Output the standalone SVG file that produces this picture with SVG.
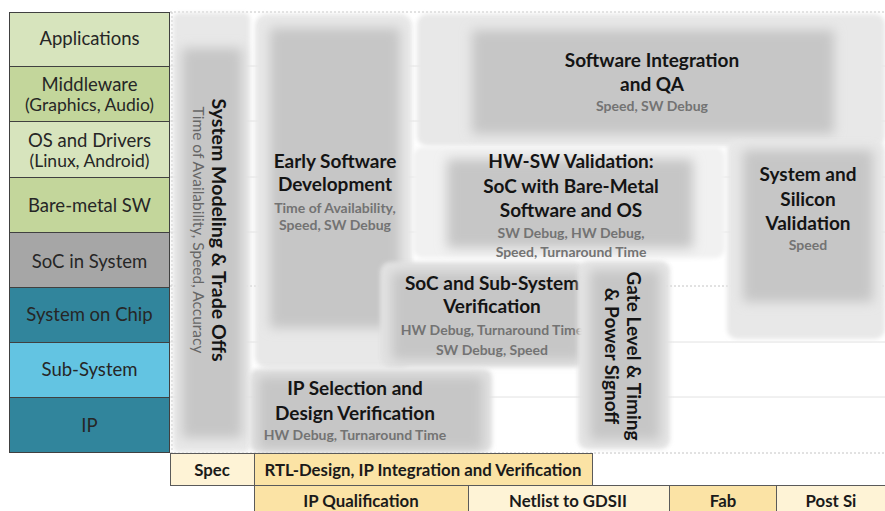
<svg xmlns="http://www.w3.org/2000/svg" width="885" height="511" viewBox="0 0 885 511">
<style>
.t{font-family:Lato,"Liberation Sans",sans-serif;font-weight:700;font-size:19px;fill:#141414;text-anchor:middle}
.s{font-family:Lato,"Liberation Sans",sans-serif;font-weight:700;font-size:14px;fill:#737373;text-anchor:middle}
.sr{font-family:Lato,"Liberation Sans",sans-serif;font-weight:400;font-size:15.5px;fill:#666666;text-anchor:middle}
.l{font-family:Lato,"Liberation Sans",sans-serif;font-weight:400;font-size:18.5px;fill:#262626;text-anchor:middle}
.ls{font-family:Lato,"Liberation Sans",sans-serif;font-weight:400;font-size:17.5px;fill:#262626;text-anchor:middle}
.b{font-family:Lato,"Liberation Sans",sans-serif;font-weight:700;font-size:16.8px;fill:#1a1a1a;text-anchor:middle}
.cell{stroke:#404040;stroke-width:1}
.bcell{stroke:#5a5a5a;stroke-width:1}
.grid{stroke:#e2e2e2;stroke-width:1}
.dot{stroke:#c4c4c4;stroke-width:1;stroke-dasharray:2 2}
.frame{fill:#e8e8e8}
.inner{fill:#c6c6c6}
</style>
<defs>
<filter id="b2" x="-10%" y="-10%" width="120%" height="120%"><feGaussianBlur stdDeviation="2"/></filter>
<filter id="b6" x="-20%" y="-20%" width="140%" height="140%"><feGaussianBlur stdDeviation="6"/></filter>
</defs>
<rect width="885" height="511" fill="#ffffff"/>
<g id="grid">
<line class="grid" x1="170" y1="66" x2="885" y2="66"/>
<line class="grid" x1="170" y1="121" x2="885" y2="121"/>
<line class="grid" x1="170" y1="177" x2="885" y2="177"/>
<line class="grid" x1="170" y1="232" x2="885" y2="232"/>
<line class="dot" x1="170" y1="286" x2="885" y2="286"/>
<line class="grid" x1="170" y1="342" x2="885" y2="342"/>
<line class="grid" x1="170" y1="397" x2="885" y2="397"/>
<line class="dot" x1="170" y1="12" x2="885" y2="12"/>
<line class="dot" x1="170" y1="453" x2="885" y2="453"/>
<line class="dot" x1="172" y1="12" x2="172" y2="453"/>
</g>
<g id="system-modeling">
<rect class="frame" x="173" y="13" width="77" height="439" rx="6" filter="url(#b2)"/>
<rect class="inner" x="182" y="48" width="60" height="390" filter="url(#b6)"/>
<text class="t" transform="translate(212,230) rotate(90)" style="font-size:19.5px">System Modeling &amp; Trade Offs</text>
<text class="sr" transform="translate(193,230) rotate(90)">Time of Availability, Speed, Accuracy</text>
</g>
<g id="early-sw">
<rect class="frame" x="255" y="14" width="157" height="354" rx="12" filter="url(#b2)"/>
<rect class="inner" x="270" y="28" width="130" height="300" filter="url(#b6)"/>
<text class="t" x="335" y="168">Early Software</text>
<text class="t" x="335" y="191">Development</text>
<text class="s" x="335" y="213">Time of Availability,</text>
<text class="s" x="335" y="230">Speed, SW Debug</text>
</g>
<g id="sw-integration">
<rect class="frame" x="417" y="14" width="468" height="132" rx="10" filter="url(#b2)"/>
<rect class="inner" x="472" y="30" width="362" height="104" filter="url(#b6)"/>
<text class="t" x="652" y="67">Software Integration</text>
<text class="t" x="652" y="91">and QA</text>
<text class="s" x="652" y="111">Speed, SW Debug</text>
</g>
<g id="system-silicon">
<rect class="frame" x="727" y="140" width="158" height="199" rx="10" filter="url(#b2)"/>
<rect class="inner" x="743" y="150" width="130" height="152" filter="url(#b6)"/>
<text class="t" x="808" y="181">System and</text>
<text class="t" x="808" y="206">Silicon</text>
<text class="t" x="808" y="230">Validation</text>
<text class="s" x="808" y="250">Speed</text>
</g>
<g id="hw-sw">
<rect x="413" y="147" width="312" height="111" rx="10" fill="#f1f1f1" filter="url(#b2)"/>
<rect class="inner" x="447" y="159" width="246" height="89" filter="url(#b6)"/>
<text class="t" x="571" y="168">HW-SW Validation:</text>
<text class="t" x="571" y="193">SoC with Bare-Metal</text>
<text class="t" x="571" y="217">Software and OS</text>
<text class="s" x="571" y="238">SW Debug, HW Debug,</text>
<text class="s" x="571" y="257">Speed, Turnaround  Time</text>
</g>
<g id="soc-verification">
<rect x="380" y="262" width="205" height="105" rx="10" fill="#e2e2e2" filter="url(#b2)"/>
<rect class="inner" x="392" y="272" width="190" height="88" filter="url(#b6)"/>
<text class="t" x="492" y="290">SoC and Sub-System</text>
<text class="t" x="492" y="313">Verification</text>
<text class="s" x="492" y="335">HW Debug, Turnaround  Time</text>
<text class="s" x="492" y="355">SW Debug, Speed</text>
</g>
<g id="gate-level">
<rect x="578" y="261" width="92" height="188" rx="9" fill="#e4e4e4" filter="url(#b2)"/>
<rect class="inner" x="590" y="270" width="70" height="170" filter="url(#b6)"/>
<text class="t" transform="translate(627,356) rotate(90)">Gate Level &amp; Timing</text>
<text class="t" transform="translate(605,356) rotate(90)">&amp; Power Signoff</text>
</g>
<g id="ip-selection">
<rect x="250" y="369" width="242" height="83" rx="8" fill="#e2e2e2" filter="url(#b2)"/>
<rect class="inner" x="258" y="376" width="225" height="74" filter="url(#b6)"/>
<text class="t" x="355" y="395">IP Selection and</text>
<text class="t" x="355" y="420">Design Verification</text>
<text class="s" x="355" y="440">HW Debug, Turnaround  Time</text>
</g>
<g id="layers">
<rect class="cell" x="9.5" y="12.5" width="160" height="54" fill="#d7e4bd"/>
<rect class="cell" x="9.5" y="66.5" width="160" height="55" fill="#c3d69b"/>
<rect class="cell" x="9.5" y="121.5" width="160" height="56" fill="#d7e4bd"/>
<rect class="cell" x="9.5" y="177.5" width="160" height="55" fill="#c3d69b"/>
<rect class="cell" x="9.5" y="232.5" width="160" height="55" fill="#a6a6a6"/>
<rect class="cell" x="9.5" y="287.5" width="160" height="55" fill="#31859c"/>
<rect class="cell" x="9.5" y="342.5" width="160" height="55" fill="#63c4e2"/>
<rect class="cell" x="9.5" y="397.5" width="160" height="55" fill="#31859c"/>
<text class="l" x="89.5" y="45">Applications</text>
<text class="l" x="89.5" y="91">Middleware</text>
<text class="ls" x="89.5" y="111">(Graphics, Audio)</text>
<text class="l" x="89.5" y="147">OS and Drivers</text>
<text class="ls" x="89.5" y="167">(Linux, Android)</text>
<text class="l" x="89.5" y="212">Bare-metal SW</text>
<text class="l" x="89.5" y="268">SoC in System</text>
<text class="l" x="89.5" y="321">System on Chip</text>
<text class="l" x="89.5" y="376">Sub-System</text>
<text class="l" x="89.5" y="432">IP</text>
</g>
<g id="phases">
<rect class="bcell" x="170.5" y="453.5" width="84" height="32" fill="#fef3d6"/>
<rect class="bcell" x="254.5" y="453.5" width="338" height="32" fill="#fbe3a5"/>
<rect class="bcell" x="254.5" y="485.5" width="214" height="30" fill="#fbe3a5"/>
<rect class="bcell" x="468.5" y="485.5" width="201" height="30" fill="#fef3d6"/>
<rect class="bcell" x="669.5" y="485.5" width="107" height="30" fill="#fbe3a5"/>
<rect class="bcell" x="776.5" y="485.5" width="112" height="30" fill="#fef3d6"/>
<text class="b" x="212" y="476">Spec</text>
<text class="b" x="423" y="476">RTL-Design, IP Integration and Verification</text>
<text class="b" x="361" y="507">IP Qualification</text>
<text class="b" x="568" y="507">Netlist to GDSII</text>
<text class="b" x="723" y="507">Fab</text>
<text class="b" x="831" y="507">Post Si</text>
</g>
</svg>
